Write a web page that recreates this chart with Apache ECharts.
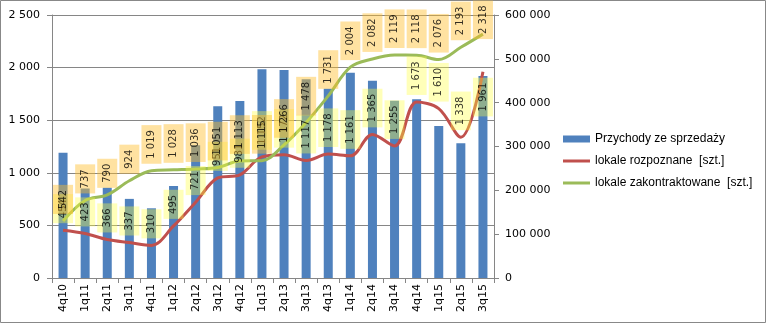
<!DOCTYPE html>
<html>
<head>
<meta charset="utf-8">
<script src="https://cdn.jsdelivr.net/npm/echarts@6/dist/echarts.min.js"></script>
<style>
html,body{margin:0;padding:0;background:#fff;}
#c{width:767px;height:324px;}
</style>
</head>
<body>
<div id="c"></div>
<script>
var categories = ['4q10','1q11','2q11','3q11','4q11','1q12','2q12','3q12','4q12','1q13','2q13','3q13','4q13','1q14','2q14','3q14','4q14','1q15','2q15','3q15'];
var przychody = [286000,204000,206000,180500,159000,210000,303000,392000,404000,476500,474500,453500,432000,468000,450000,404500,408000,347000,307500,461000];
var rozpoznane = [454,423,366,337,310,495,721,951,981,1152,1172,1117,1178,1161,1365,1255,1673,1610,1338,1961];
var zakontraktowane = [542,737,790,924,1019,1028,1036,1051,1113,1115,1266,1478,1731,2004,2082,2119,2118,2076,2193,2318];
var leftTicks = [0,500,1000,1500,2000,2500];
var rightTicks = [0,100000,200000,300000,400000,500000,600000];
var seriesNames = ['Przychody ze sprzedaży','lokale rozpoznane  [szt.]','lokale zakontraktowane  [szt.]'];

function fmt(v){
  var s = String(Math.round(v));
  return s.replace(/\B(?=(\d{3})+(?!\d))/g, ' ');
}

var labelBase = {
  show: true,
  position: 'top',
  distance: 7,
  rotate: 90,
  align: 'left',
  verticalAlign: 'middle',
  fontFamily: 'DejaVu Sans',
  fontSize: 10,
  color: '#000',
  padding: [4,5],
  lineHeight: 12,
  formatter: function(p){ return fmt(p.value[1]); }
};
function lbl(extra, bg){
  var o = {};
  for (var k in labelBase) o[k] = labelBase[k];
  o.backgroundColor = bg;
  for (var k2 in extra) o[k2] = extra[k2];
  return o;
}
var greenBg = 'rgba(255,190,40,0.55)';
var yellowBg = 'rgba(255,255,60,0.45)';

// per-point label tweaks (styling only)
var redOverrides = {19: {position:'bottom', align:'right', distance: 6}};
var greenOverrides = {19: {distance: -5}};

function buildLabelData(values, overrides, bg){
  return values.map(function(v,i){
    var o = {value: [categories[i], v]};
    if (overrides[i]) o.label = lbl(overrides[i], bg);
    return o;
  });
}

var lineIcon = 'path://M0,0L27,0L27,3L0,3Z';

var chart = echarts.init(document.getElementById('c'), null, {renderer:'canvas'});
var axisFont = {fontFamily:'DejaVu Sans', fontSize:11, color:'#000'};
chart.setOption({
  animation: false,
  backgroundColor: '#fff',
  graphic: [{
    type:'rect', shape:{x:0.5,y:0.5,width:765,height:322},
    style:{fill:'none', stroke:'#888', lineWidth:1}, z:-10
  }],
  grid: {left:52, right:273, top:15, bottom:46},
  legend: {
    orient:'vertical', left:558, top:128, itemWidth:27, itemHeight:7, itemGap:10,
    textStyle:{fontFamily:'Liberation Sans', fontSize:12, color:'#000'},
    data: [
      {name: seriesNames[0], icon:'rect'},
      {name: seriesNames[1], icon: lineIcon},
      {name: seriesNames[2], icon: lineIcon}
    ]
  },
  xAxis: {
    type:'category', data: categories, boundaryGap:true,
    axisLine:{lineStyle:{color:'#868686'}},
    axisTick:{show:true, length:5, lineStyle:{color:'#868686'}},
    axisLabel: Object.assign({rotate:90, margin:6, interval:0}, axisFont)
  },
  yAxis: [{
    type:'value', min:0, max:2500, interval:500, position:'left',
    axisLine:{show:true, lineStyle:{color:'#868686'}},
    axisTick:{show:true, length:5, lineStyle:{color:'#868686'}},
    splitLine:{show:true, lineStyle:{color:'#868686'}},
    axisLabel: Object.assign({margin:12, formatter: function(v){return fmt(v);}}, axisFont)
  },{
    type:'value', min:0, max:600000, interval:100000, position:'right',
    axisLine:{show:true, lineStyle:{color:'#868686'}},
    axisTick:{show:true, length:5, lineStyle:{color:'#868686'}},
    splitLine:{show:false},
    axisLabel: Object.assign({margin:11, formatter: function(v){return fmt(v);}}, axisFont)
  }],
  series: [{
    name: seriesNames[0], type:'bar', yAxisIndex:1, data: przychody,
    barWidth: 9, itemStyle:{color:'#4F81BD'}, z:1
  },{
    name: seriesNames[1], type:'line', yAxisIndex:0, data: rozpoznane,
    smooth: 0.35, symbol:'none', showSymbol:false,
    lineStyle:{color:'#C0504D', width:3}, itemStyle:{color:'#C0504D'}, z:3
  },{
    name: seriesNames[2], type:'line', yAxisIndex:0, data: zakontraktowane,
    smooth: 0.35, symbol:'none', showSymbol:false,
    lineStyle:{color:'#9BBB59', width:3}, itemStyle:{color:'#9BBB59'}, z:4
  },{
    name: 'labels-r', type:'scatter', yAxisIndex:0,
    data: buildLabelData(rozpoznane, redOverrides, yellowBg),
    symbolSize: 0.1, itemStyle:{color:'rgba(0,0,0,0)'},
    label: lbl({}, yellowBg), z:5, silent:true
  },{
    name: 'labels-g', type:'scatter', yAxisIndex:0,
    data: buildLabelData(zakontraktowane, greenOverrides, greenBg),
    symbolSize: 0.1, itemStyle:{color:'rgba(0,0,0,0)'},
    label: lbl({}, greenBg), z:6, silent:true
  }]
});
</script>
</body>
</html>
